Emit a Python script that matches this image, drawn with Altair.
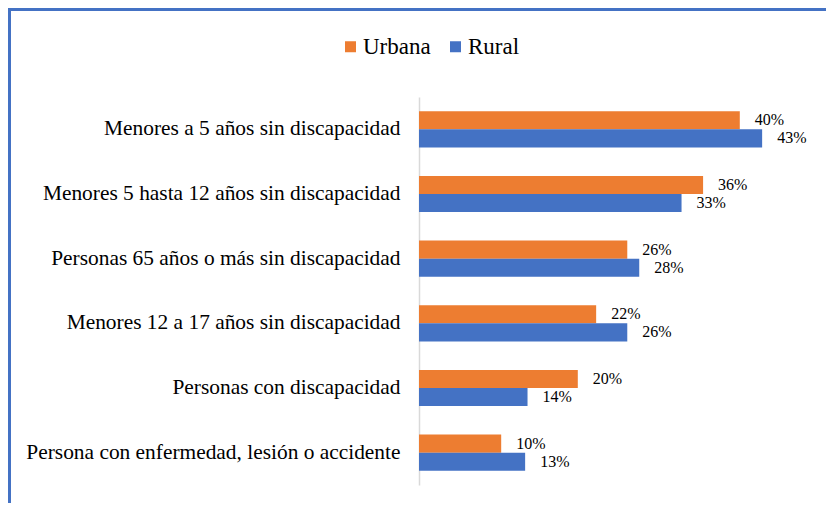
import altair as alt
import pandas as pd

categories = [
    "Menores a 5 años sin discapacidad",
    "Menores 5 hasta 12 años sin discapacidad",
    "Personas 65 años o más sin discapacidad",
    "Menores 12 a 17 años sin discapacidad",
    "Personas con discapacidad",
    "Persona con enfermedad, lesión o accidente",
]
series = ["Urbana", "Rural"]
urbana = [40.2, 35.6, 26.1, 22.2, 19.9, 10.3]
rural = [43.0, 32.9, 27.6, 26.1, 13.6, 13.3]
colors = ["#ED7D31", "#4472C4"]

rows = []
for c, u, r in zip(categories, urbana, rural):
    rows.append({"cat": c, "serie": "Urbana", "val": u})
    rows.append({"cat": c, "serie": "Rural", "val": r})
df = pd.DataFrame(rows)

FONT = "Liberation Serif"

y = alt.Y(
    "cat:N",
    sort=categories,
    scale=alt.Scale(paddingInner=0.44, paddingOuter=0.22),
    axis=alt.Axis(
        title=None, labelFont=FONT, labelFontSize=21.4, labelColor="black",
        ticks=False, domainColor="#D9D9D9", domainWidth=1.5, labelPadding=19, labelLimit=600,
    ),
)
yoff = alt.YOffset("serie:N", sort=series, scale=alt.Scale(paddingInner=0, paddingOuter=0))
x = alt.X("val:Q", scale=alt.Scale(domain=[0, 50]), axis=None)

bars = alt.Chart(df).mark_bar().encode(
    y=y, yOffset=yoff, x=x,
    color=alt.Color(
        "serie:N", sort=series,
        scale=alt.Scale(domain=series, range=colors),
        legend=alt.Legend(
            title=None, orient="none", legendX=-80, legendY=-62,
            direction="horizontal", symbolType="square", symbolSize=121,
            labelFontSize=23, labelFont=FONT, labelColor="black",
            columnPadding=13, labelOffset=1, padding=0, symbolStrokeWidth=0,
        ),
    ),
)

text = alt.Chart(df).transform_calculate(
    label="format(datum.val, '.0f') + '%'"
).mark_text(
    align="left", baseline="middle", dx=15, font=FONT, fontSize=16, color="black"
).encode(y=y, yOffset=yoff, x=x, text="label:N")

left_border = alt.Chart(alt.Data(values=[{}])).mark_rule(
    color="#4472C4", strokeWidth=3
).encode(x=alt.value(-409.5), y=alt.value(-88.5), y2=alt.value(406))

top_border = alt.Chart(alt.Data(values=[{}])).mark_rule(
    color="#4472C4", strokeWidth=3
).encode(x=alt.value(-411), x2=alt.value(407), y=alt.value(-87.5))

chart = alt.layer(bars, text, left_border, top_border).properties(
    width=399,
    height=388,
    autosize=alt.AutoSizeParams(type="none"),
    padding={"left": 411, "top": 89, "right": 8, "bottom": 18},
).configure(font=FONT).configure_view(strokeWidth=0)

chart.save("out.html", embed_options={"renderer": "svg", "actions": False})
